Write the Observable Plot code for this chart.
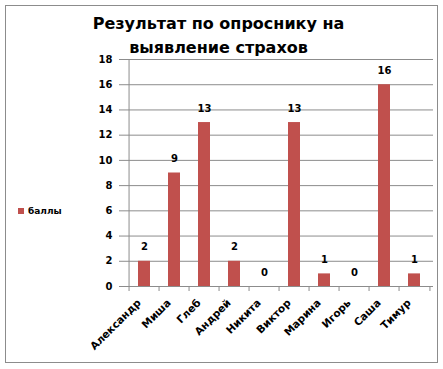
<!DOCTYPE html>
<html><head><meta charset="utf-8">
<script src="https://cdn.jsdelivr.net/npm/d3@7"></script>
<script src="https://cdn.jsdelivr.net/npm/@observablehq/plot@0.6"></script>
<style>
html,body{margin:0;padding:0;background:#fff;}
#wrap{position:relative;width:443px;height:369px;overflow:hidden;font-family:"DejaVu Sans",Verdana,sans-serif;}
#border{position:absolute;left:5px;top:5px;width:431px;height:356px;border:1px solid #8c8c8c;}
#title{position:absolute;left:-3px;top:12px;width:443px;text-align:center;font-weight:bold;font-size:16px;line-height:24px;letter-spacing:0px;color:#000;margin:0;}
#legend{position:absolute;left:18px;top:206px;font-size:9px;font-weight:bold;display:flex;align-items:center;gap:4px;}
#legend span.sw{display:inline-block;width:6px;height:6px;background:#c0504d;}
#chart{position:absolute;left:0;top:0;}
</style></head>
<body>
<div id="wrap">
  <div id="border"></div>
  <div id="chart"></div>
  <div id="title">Результат по опроснику на<br>выявление страхов</div>
  <div id="legend"><span class="sw"></span><span>баллы</span></div>
</div>
<script>
const names = ["Александр","Миша","Глеб","Андрей","Никита","Виктор","Марина","Игорь","Саша","Тимур"];
const scores = [2, 9, 13, 2, 0, 13, 1, 0, 16, 1];
const yTicks = [0,2,4,6,8,10,12,14,16,18];
const seriesName = "баллы";

const data = names.map((n,i)=>({name:n, value:scores[i]}));
const W = 443, H = 369, ml = 124, mr = 10, mt = 59, mb = 83;
const step = (W - ml - mr) / names.length;

const chart = Plot.plot({
  width: W, height: H,
  marginLeft: ml, marginRight: mr, marginTop: mt, marginBottom: mb,
  style: {fontFamily: '"DejaVu Sans", Verdana, sans-serif', background: "transparent"},
  x: {domain: names, paddingInner: 0.6, paddingOuter: 0.3, align: 0.5, axis: null},
  y: {domain: [0, 18], axis: null},
  marks: [
    Plot.ruleY(yTicks, {y: d=>d, stroke: "#8c8c8c", strokeWidth: 1, strokeOpacity: 1, insetLeft: -5}),
    Plot.ruleX([names[0]], {x: d=>d, dx: -step/2, y1: 0, y2: 18, stroke: "#8c8c8c"}),
    Plot.ruleX(names, {x: d=>d, dx: -step/2, y1: 0, y2: 0, insetBottom: -5, stroke: "#8c8c8c"}),
    Plot.ruleX([names[names.length-1]], {x: d=>d, dx: step/2, y1: 0, y2: 0, insetBottom: -5, stroke: "#8c8c8c"}),
    Plot.barY(data, {x: "name", y: "value", fill: "#c0504d"}),
    Plot.text(data, {x: "name", y: "value", text: d=>String(d.value), dy: -14, fontWeight: "bold", fontSize: 10, fill: "#000"}),
    Plot.text(yTicks, {y: d=>d, frameAnchor: "left", dx: -12, textAnchor: "end", text: d=>String(d), fontWeight: "bold", fontSize: 10, fill: "#000"}),
    Plot.text(names, {x: d=>d, frameAnchor: "bottom", dy: 17, dx: -3, rotate: -45, textAnchor: "end", text: d=>d, fontWeight: "bold", fontSize: 10.5, fill: "#000"})
  ]
});
document.getElementById("chart").appendChild(chart);
</script>
</body></html>
